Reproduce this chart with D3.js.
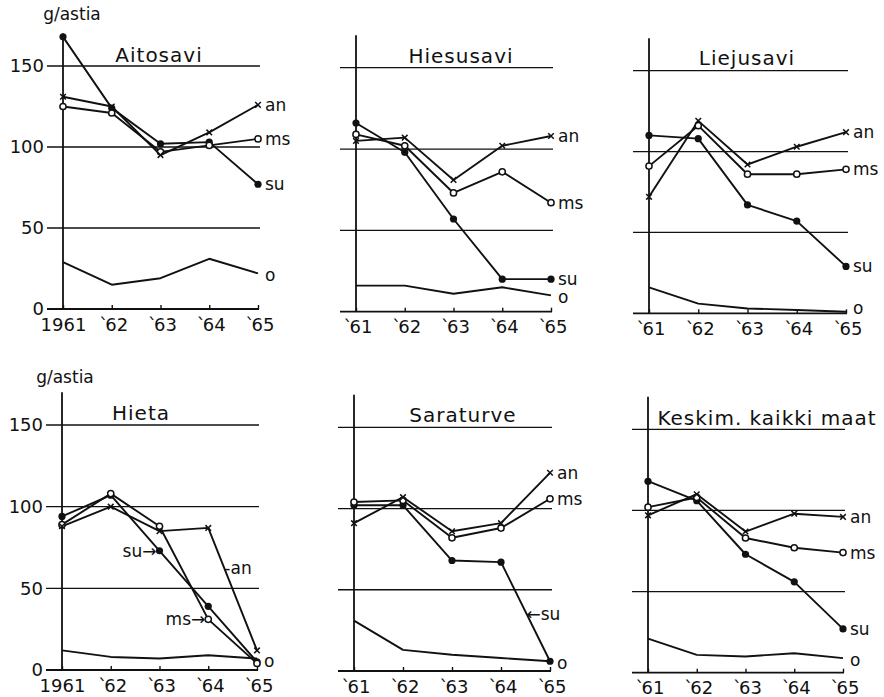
<!DOCTYPE html>
<html>
<head>
<meta charset="utf-8">
<script src="https://cdn.jsdelivr.net/npm/d3@7"></script>
<style>
  html, body { margin: 0; padding: 0; background: #fff; }
  svg { display: block; font-family: "DejaVu Sans", sans-serif; }
</style>
</head>
<body>
<svg id="chart" width="884" height="697"></svg>
<script>
// Yearly values (g/astia) per soil type, 1961-1965
const years = [1961, 1962, 1963, 1964, 1965];
const panelNames = ["Aitosavi", "Hiesusavi", "Liejusavi", "Hieta", "Saraturve", "Keskim. kaikki maat"];
const seriesKeys = ["an", "ms", "su", "o"];
const gridValues = [50, 100, 150];
const yTickValues = [0, 50, 100, 150];
const fullYearLabels = ["1961", "`62", "`63", "`64", "`65"];
const shortYearLabels = ["`61", "`62", "`63", "`64", "`65"];
const unitLabel = "g/astia";

const anValues = [
  [131, 125, 95, 109, 126],
  [105, 107, 81, 102, 108],
  [72, 119, 92, 103, 112],
  [88, 100, 85, 87, 12],
  [91, 107, 86, 91, 122],
  [97, 110, 87, 98, 96]
];
const msValues = [
  [125, 121, 97, 101, 105],
  [109, 102, 73, 86, 67],
  [91, 116, 86, 86, 89],
  [89, 108, 88, 31, 4],
  [104, 105, 82, 88, 106],
  [102, 108, 83, 77, 74]
];
const suValues = [
  [168, 124, 102, 103, 77],
  [116, 98, 57, 20, 20],
  [110, 108, 67, 57, 29],
  [94, 107, 73, 39, 5],
  [102, 102, 68, 67, 6],
  [118, 106, 73, 56, 27]
];
const oValues = [
  [29, 15, 19, 31, 22],
  [16, 16, 11, 15, 10],
  [16, 6, 3, 2, 1],
  [12, 8, 7, 9, 7],
  [31, 13, 10, 8, 6],
  [21, 11, 10, 12, 9]
];

const seriesValues = { an: anValues, ms: msValues, su: suValues, o: oValues };

// Frame geometry of each small multiple
const frames = [
  { x0: 63,  x1: 258, y0: 309,   y150: 66,    titleX: 159, titleY: 62,  full: true, unitX: 72, unitY: 20 },
  { x0: 356, x1: 551, y0: 311.7, y150: 67.7,  titleX: 461, titleY: 63 },
  { x0: 649, x1: 846, y0: 313.3, y150: 70.7,  titleX: 747, titleY: 65 },
  { x0: 62,  x1: 257, y0: 670,   y150: 425,   titleX: 141, titleY: 420, full: true, unitX: 65, unitY: 383 },
  { x0: 354, x1: 550, y0: 671,   y150: 427.3, titleX: 463, titleY: 422 },
  { x0: 648, x1: 843, y0: 672.7, y150: 429.3, titleX: 767, titleY: 425 }
];

// Series labels placed inside a panel instead of at the line end
const inlineLabels = [
  {}, {}, {},
  {
    su: { pre: "su", arrow: "→", post: "", seg: 2, t: 0, anchor: "end", dx: -3 },
    ms: { pre: "ms", arrow: "→", post: "", seg: 3, t: 0, anchor: "end", dx: -3 },
    an: { pre: "-an", arrow: "", post: "", seg: 3, t: 0.33, anchor: "start", dx: 0 }
  },
  {
    su: { pre: "", arrow: "←", post: "su", seg: 3, t: 0.52, anchor: "start", dx: 0 }
  },
  {}
];

const svg = d3.select("#chart");

frames.forEach((f, p) => {
  const g = svg.append("g");
  const x = d3.scaleLinear().domain([1961, 1965]).range([f.x0, f.x1]);
  const y = d3.scaleLinear().domain([0, 150]).range([f.y0, f.y150]);

  // horizontal reference lines
  g.selectAll("line.grid").data(gridValues).join("line")
    .attr("x1", f.x0 - 16).attr("x2", f.x1 + 2)
    .attr("y1", d => y(d)).attr("y2", d => y(d))
    .attr("stroke", "#111").attr("stroke-width", 1.3);

  // x axis
  const labels = f.full ? fullYearLabels : shortYearLabels;
  const xAxis = g.append("g")
    .attr("transform", `translate(0,${y(0)})`)
    .call(d3.axisBottom(x).tickValues(years)
      .tickFormat((d, i) => labels[i]).tickSize(-4).tickPadding(9));
  xAxis.select(".domain").remove();
  xAxis.selectAll(".tick line").attr("stroke", "#111").attr("stroke-width", 1.4);
  xAxis.selectAll(".tick text")
    .attr("font-size", 18).attr("fill", "#111")
    .attr("font-family", "DejaVu Sans, sans-serif")
    // tuck the year apostrophe in close to the digits
    .attr("dx", (d, i) => labels[i].startsWith("`") ? "1.5 -3" : null);
  g.append("line")
    .attr("x1", f.x0 - 16).attr("x2", f.x1 + 1)
    .attr("y1", y(0)).attr("y2", y(0))
    .attr("stroke", "#111").attr("stroke-width", 1.8);

  // vertical axis
  g.append("line")
    .attr("x1", f.x0).attr("x2", f.x0)
    .attr("y1", y(0)).attr("y2", y(170))
    .attr("stroke", "#111").attr("stroke-width", 1.8);

  if (f.full) {
    const yAxis = g.append("g")
      .attr("transform", `translate(${f.x0 - 16},0)`)
      .call(d3.axisLeft(y).tickValues(yTickValues).tickSize(0).tickPadding(3));
    yAxis.select(".domain").remove();
    yAxis.selectAll(".tick text")
      .attr("font-size", 18).attr("fill", "#111")
      .attr("font-family", "DejaVu Sans, sans-serif");
    g.append("text")
      .attr("x", f.unitX).attr("y", f.unitY)
      .attr("text-anchor", "middle")
      .attr("font-size", 17).attr("fill", "#111")
      .text(unitLabel);
  }

  // panel title
  g.append("text")
    .attr("x", f.titleX).attr("y", f.titleY)
    .attr("text-anchor", "middle")
    .attr("font-size", 20).attr("letter-spacing", 1)
    .attr("fill", "#111")
    .text(panelNames[p]);

  const line = d3.line().x((d, i) => x(years[i])).y(d => y(d));

  // series lines
  seriesKeys.slice().reverse().forEach(key => {
    g.append("path")
      .datum(seriesValues[key][p])
      .attr("d", line)
      .attr("fill", "none")
      .attr("stroke", "#111")
      .attr("stroke-width", 1.9)
      .attr("stroke-linejoin", "round");
  });

  // markers
  const pts = key => seriesValues[key][p].map((v, i) => ({ cx: x(years[i]), cy: y(v) }));

  g.selectAll("circle.su").data(pts("su")).join("circle")
    .attr("cx", d => d.cx).attr("cy", d => d.cy).attr("r", 3.6)
    .attr("fill", "#111");

  g.selectAll("circle.ms").data(pts("ms")).join("circle")
    .attr("cx", d => d.cx).attr("cy", d => d.cy).attr("r", 3.1)
    .attr("fill", "#fff").attr("stroke", "#111").attr("stroke-width", 1.5);

  const s = 2.8;
  g.selectAll("path.an").data(pts("an")).join("path")
    .attr("d", d => `M${d.cx - s},${d.cy - s}L${d.cx + s},${d.cy + s}M${d.cx - s},${d.cy + s}L${d.cx + s},${d.cy - s}`)
    .attr("stroke", "#111").attr("stroke-width", 1.5).attr("fill", "none");

  // series labels
  seriesKeys.forEach(key => {
    const vals = seriesValues[key][p];
    const spec = inlineLabels[p][key];
    if (spec) {
      const i = spec.seg;
      const j = Math.min(i + 1, vals.length - 1);
      const px = x(years[i]) + (x(years[j]) - x(years[i])) * spec.t;
      const py = y(vals[i]) + (y(vals[j]) - y(vals[i])) * spec.t;
      g.append("text")
        .attr("x", px + spec.dx).attr("y", py)
        .attr("dy", "0.35em")
        .attr("text-anchor", spec.anchor)
        .attr("font-size", 17).attr("fill", "#111")
        .text(spec.pre + spec.arrow + spec.post);
    } else {
      // the "o" label sits just under its line end, or above it on the axis
      const lift = key === "o" ? (vals[vals.length - 1] < 5 ? -4 : 2) : 0;
      g.append("text")
        .attr("x", x(1965) + 7).attr("y", y(vals[vals.length - 1]) + lift)
        .attr("dy", "0.35em")
        .attr("font-size", 17).attr("fill", "#111")
        .text(key);
    }
  });
});
</script>
</body>
</html>
